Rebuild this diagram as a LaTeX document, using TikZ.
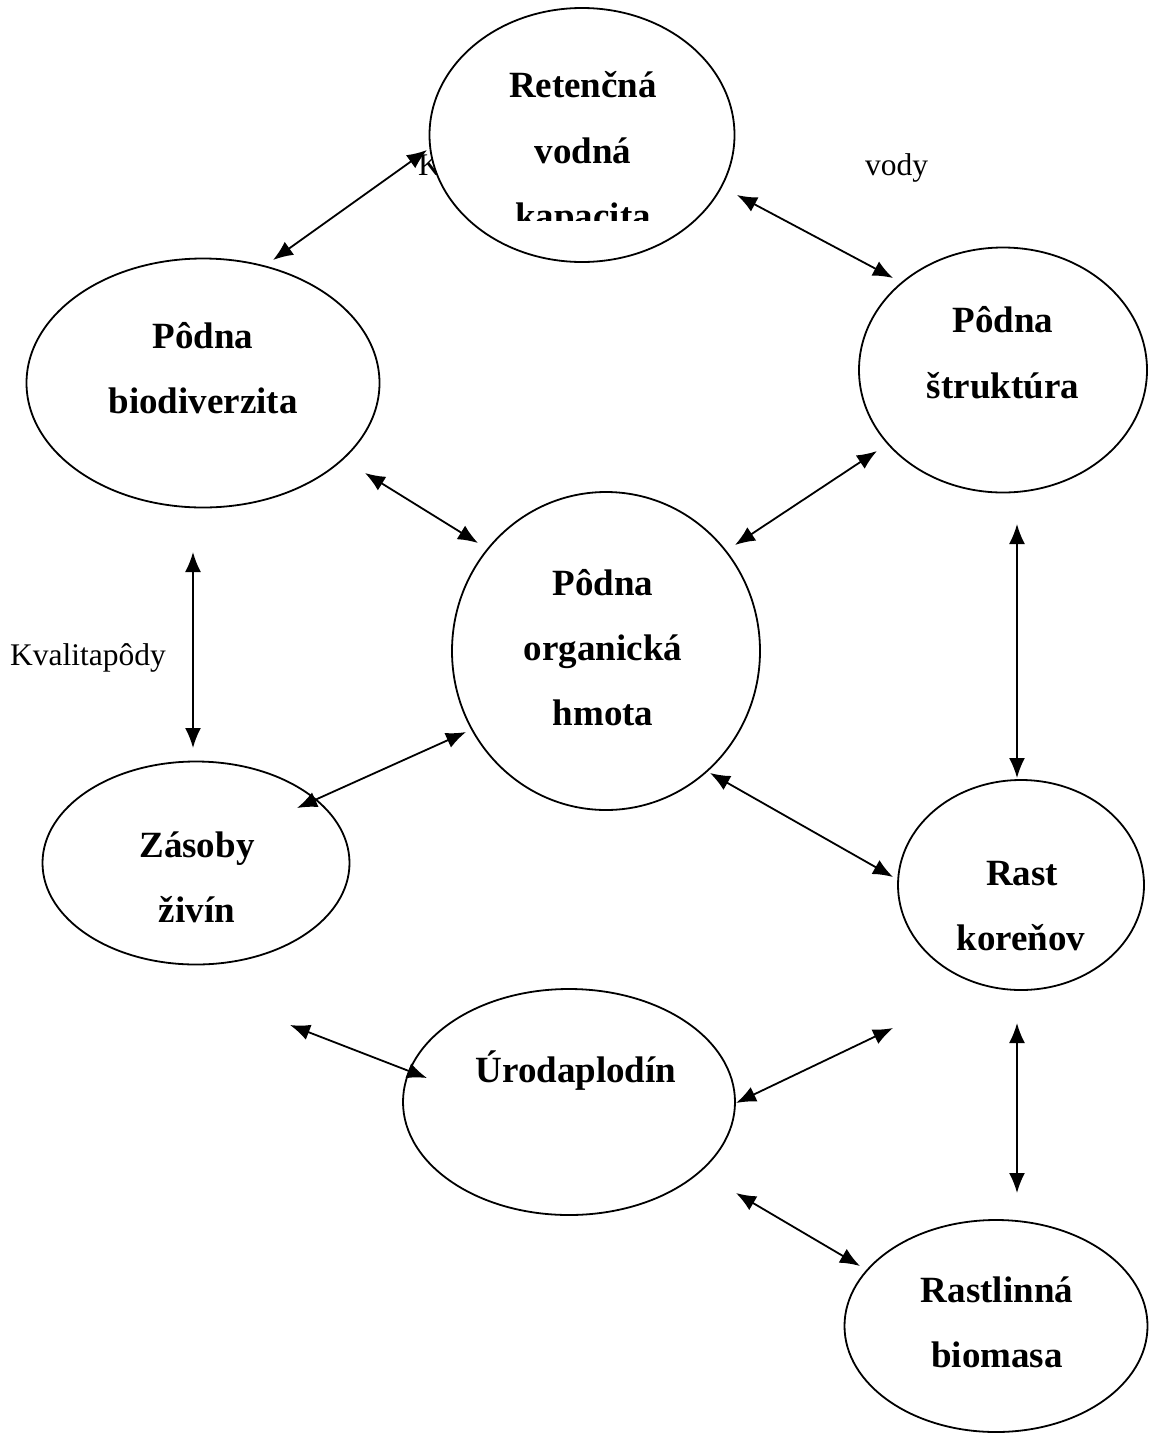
\documentclass[tikz,border=0pt]{standalone}
\usepackage{fontspec}
\setmainfont{Liberation Serif}
\usetikzlibrary{shapes.geometric,arrows.meta}
\tikzset{
  ell/.style={ellipse, draw, line width=1.8pt, fill=white, inner sep=0pt, outer sep=0pt},
  lbl/.style={anchor=base, inner sep=0pt, font=\fontsize{37}{44}\selectfont\bfseries},
  plain/.style={anchor=base west, inner sep=0pt, font=\fontsize{31.5}{38}\selectfont},
  link/.style={line width=1.8pt, {Latex[length=20pt,width=16pt]}-{Latex[length=20pt,width=16pt]}}
}
\begin{document}
\begin{tikzpicture}[x=1pt,y=-1pt]
\useasboundingbox (0,0) rectangle (1149,1435);
% partially hidden text
\node[plain] (kk) at (418,175) {K};
% ellipses
\node[ell, minimum width=305pt, minimum height=254pt] (ret) at (582,135) {};
\node[ell, minimum width=353pt, minimum height=249pt] (bio) at (203,383) {};
\node[ell, minimum width=288pt, minimum height=245pt] (str) at (1003,370) {};
\node[ell, minimum width=308pt, minimum height=318pt] (org) at (606,651) {};
\node[ell, minimum width=307pt, minimum height=203pt] (zas) at (196,863) {};
\node[ell, minimum width=246pt, minimum height=210pt] (ras) at (1021,885) {};
\node[ell, minimum width=332pt, minimum height=226pt] (uro) at (569,1102) {};
\node[ell, minimum width=303pt, minimum height=212pt] (bms) at (996,1326) {};
% labels
\node[lbl] (t1) at (583,97) {Retenčná};
\node[lbl] (t2) at (583,163) {vodná};
\begin{scope}
\clip (430,180) rectangle (740,220);
\node[lbl] (t3) at (583,228) {kapacita};
\end{scope}
\node[lbl] (t4) at (203,348) {Pôdna};
\node[lbl] (t5) at (203,413) {biodiverzita};
\node[lbl] (t6) at (1003,332) {Pôdna};
\node[lbl] (t7) at (1003,398) {štruktúra};
\node[lbl] (t8) at (603,595) {Pôdna};
\node[lbl] (t9) at (603,660) {organická};
\node[lbl] (t10) at (603,725) {hmota};
\node[lbl] (t11) at (197,857) {Zásoby};
\node[lbl] (t12) at (197,922) {živín};
\node[lbl] (t13) at (1022,885) {Rast};
\node[lbl] (t14) at (1021,950) {koreňov};
\node[lbl] (t15) at (576,1082) {Úrodaplodín};
\node[lbl] (t16) at (997,1302) {Rastlinná};
\node[lbl] (t17) at (997,1367) {biomasa};
\node[plain] (q1) at (10,665) {Kvalitapôdy};
\node[plain] (q2) at (865,175) {vody};
% arrow end points
\coordinate (a1) at (273,260); \coordinate (a2) at (427,150);
\coordinate (b1) at (737,195); \coordinate (b2) at (893,278);
\coordinate (c1) at (365,473); \coordinate (c2) at (478,543);
\coordinate (d1) at (877,451); \coordinate (d2) at (735,545);
\coordinate (e1) at (193,552); \coordinate (e2) at (193,748);
\coordinate (f1) at (1017,524); \coordinate (f2) at (1017,778);
\coordinate (g1) at (466,732); \coordinate (g2) at (297,808);
\coordinate (h1) at (710,773); \coordinate (h2) at (893,877);
\coordinate (i1) at (290,1025); \coordinate (i2) at (427,1078);
\coordinate (j1) at (893,1028); \coordinate (j2) at (736,1103);
\coordinate (k1) at (1017,1023); \coordinate (k2) at (1017,1193);
\coordinate (l1) at (736,1193); \coordinate (l2) at (860,1266);
\draw[link] (a1) -- (a2);
\draw[link] (b1) -- (b2);
\draw[link] (c1) -- (c2);
\draw[link] (d1) -- (d2);
\draw[link] (e1) -- (e2);
\draw[link] (f1) -- (f2);
\draw[link] (g1) -- (g2);
\draw[link] (h1) -- (h2);
\draw[link] (i1) -- (i2);
\draw[link] (j1) -- (j2);
\draw[link] (k1) -- (k2);
\draw[link] (l1) -- (l2);
\end{tikzpicture}
\end{document}
